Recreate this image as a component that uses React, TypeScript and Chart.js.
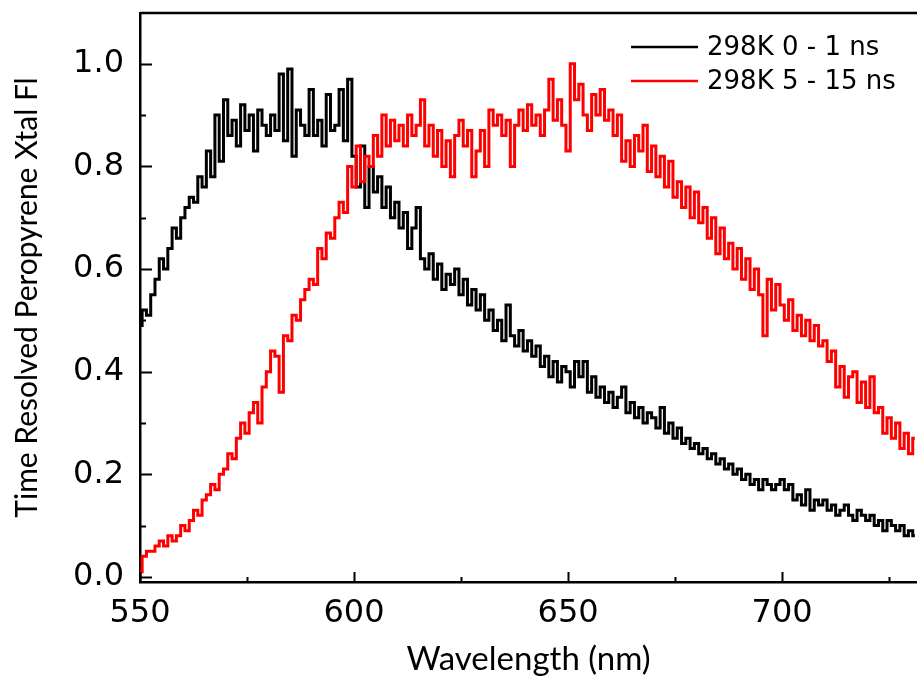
import { useEffect, useRef } from 'react';
import { Chart, registerables } from 'chart.js';

Chart.register(...registerables);

const wavelengths = [
  550, 551, 552, 553, 554, 555, 556, 557, 558, 559,
  560, 561, 562, 563, 564, 565, 566, 567, 568, 569,
  570, 571, 572, 573, 574, 575, 576, 577, 578, 579,
  580, 581, 582, 583, 584, 585, 586, 587, 588, 589,
  590, 591, 592, 593, 594, 595, 596, 597, 598, 599,
  600, 601, 602, 603, 604, 605, 606, 607, 608, 609,
  610, 611, 612, 613, 614, 615, 616, 617, 618, 619,
  620, 621, 622, 623, 624, 625, 626, 627, 628, 629,
  630, 631, 632, 633, 634, 635, 636, 637, 638, 639,
  640, 641, 642, 643, 644, 645, 646, 647, 648, 649,
  650, 651, 652, 653, 654, 655, 656, 657, 658, 659,
  660, 661, 662, 663, 664, 665, 666, 667, 668, 669,
  670, 671, 672, 673, 674, 675, 676, 677, 678, 679,
  680, 681, 682, 683, 684, 685, 686, 687, 688, 689,
  690, 691, 692, 693, 694, 695, 696, 697, 698, 699,
  700, 701, 702, 703, 704, 705, 706, 707, 708, 709,
  710, 711, 712, 713, 714, 715, 716, 717, 718, 719,
  720, 721, 722, 723, 724, 725, 726, 727, 728, 729, 730, 731,
];

// 298K 0 - 1 ns
const early = [
  0.49, 0.52, 0.51, 0.55, 0.58, 0.62, 0.60, 0.64, 0.68, 0.66,
  0.70, 0.72, 0.74, 0.73, 0.78, 0.76, 0.83, 0.78, 0.90, 0.81,
  0.93, 0.86, 0.89, 0.84, 0.92, 0.87, 0.90, 0.83, 0.91, 0.88,
  0.86, 0.90, 0.87, 0.98, 0.85, 0.99, 0.82, 0.91, 0.88, 0.86,
  0.95, 0.86, 0.89, 0.84, 0.94, 0.87, 0.88, 0.95, 0.85, 0.97,
  0.82, 0.76, 0.84, 0.72, 0.80, 0.75, 0.78, 0.72, 0.76, 0.70,
  0.73, 0.68, 0.71, 0.64, 0.68, 0.72, 0.62, 0.60, 0.63, 0.58,
  0.61, 0.56, 0.59, 0.57, 0.60, 0.55, 0.58, 0.53, 0.56, 0.52,
  0.55, 0.50, 0.52, 0.48, 0.50, 0.46, 0.53, 0.47, 0.45, 0.48,
  0.44, 0.46, 0.43, 0.45, 0.41, 0.43, 0.39, 0.42, 0.38, 0.41,
  0.40, 0.37, 0.42, 0.39, 0.42, 0.36, 0.39, 0.35, 0.37, 0.34,
  0.36, 0.33, 0.35, 0.37, 0.32, 0.34, 0.31, 0.33, 0.30, 0.32,
  0.31, 0.29, 0.33, 0.28, 0.30, 0.27, 0.29, 0.26, 0.27, 0.25,
  0.26, 0.24, 0.25, 0.23, 0.24, 0.22, 0.23, 0.21, 0.22, 0.20,
  0.21, 0.19, 0.20, 0.18, 0.19, 0.17, 0.19, 0.18, 0.17, 0.18,
  0.19, 0.17, 0.18, 0.15, 0.16, 0.14, 0.17, 0.13, 0.15, 0.14,
  0.15, 0.13, 0.14, 0.12, 0.13, 0.14, 0.12, 0.11, 0.13, 0.12,
  0.11, 0.12, 0.10, 0.11, 0.09, 0.11, 0.10, 0.09, 0.10, 0.08, 0.09, 0.08,
];

// 298K 5 - 15 ns
const late = [
  0.01, 0.04, 0.05, 0.05, 0.06, 0.07, 0.06, 0.08, 0.07, 0.08,
  0.10, 0.09, 0.11, 0.13, 0.12, 0.15, 0.16, 0.18, 0.17, 0.20,
  0.21, 0.24, 0.23, 0.27, 0.30, 0.28, 0.32, 0.34, 0.30, 0.37,
  0.40, 0.44, 0.43, 0.36, 0.47, 0.46, 0.51, 0.50, 0.54, 0.56,
  0.58, 0.57, 0.64, 0.62, 0.67, 0.66, 0.70, 0.73, 0.71, 0.80,
  0.76, 0.84, 0.77, 0.82, 0.80, 0.86, 0.82, 0.90, 0.84, 0.89,
  0.85, 0.88, 0.84, 0.90, 0.86, 0.88, 0.93, 0.84, 0.88, 0.82,
  0.87, 0.80, 0.85, 0.78, 0.86, 0.89, 0.84, 0.87, 0.78, 0.83,
  0.87, 0.80, 0.91, 0.88, 0.90, 0.86, 0.89, 0.80, 0.88, 0.91,
  0.87, 0.92, 0.88, 0.90, 0.86, 0.91, 0.97, 0.89, 0.93, 0.88,
  0.83, 1.00, 0.93, 0.96, 0.90, 0.87, 0.94, 0.90, 0.95, 0.89,
  0.91, 0.86, 0.90, 0.81, 0.85, 0.80, 0.86, 0.83, 0.88, 0.79,
  0.84, 0.78, 0.82, 0.76, 0.81, 0.74, 0.77, 0.72, 0.76, 0.70,
  0.75, 0.69, 0.72, 0.66, 0.70, 0.63, 0.68, 0.62, 0.65, 0.60,
  0.64, 0.58, 0.62, 0.56, 0.60, 0.55, 0.47, 0.58, 0.52, 0.57,
  0.53, 0.50, 0.54, 0.48, 0.51, 0.47, 0.50, 0.46, 0.49, 0.45,
  0.46, 0.42, 0.44, 0.37, 0.41, 0.35, 0.39, 0.40, 0.34, 0.38,
  0.33, 0.39, 0.32, 0.33, 0.28, 0.31, 0.27, 0.30, 0.25, 0.28, 0.24, 0.27,
];

const seriesLabels = ['298K 0 - 1 ns', '298K 5 - 15 ns'];
const seriesColors = ['#000000', '#ff0000'];

const xMajorTicks = [550, 600, 650, 700];
const xMinorTicks = [575, 625, 675, 725];
const yMajorTicks = [0, 0.2, 0.4, 0.6, 0.8, 1.0];
const yMinorTicks = [0.1, 0.3, 0.5, 0.7, 0.9];

const xTitle = 'Wavelength (nm)';
const yTitle = 'Time Resolved Peropyrene Xtal Fl';

const tickFont = { family: '"DejaVu Sans", sans-serif', size: 32, lineHeight: 1.2 };
const xTitleFont = { family: 'Lato, sans-serif', size: 33, lineHeight: 1.2 };
const yTitleFont = { family: 'Lato, sans-serif', size: 30, lineHeight: 1.2 };

const frameTicksLegend = {
  id: 'frameTicksLegend',
  afterDatasetsDraw(chart: any) {
    const { ctx, chartArea, scales } = chart;
    const x = scales.x;
    const y = scales.y;
    ctx.save();
    ctx.strokeStyle = '#000';
    ctx.lineCap = 'butt';
    // top frame line
    ctx.lineWidth = 2.5;
    ctx.beginPath();
    ctx.moveTo(chartArea.left, chartArea.top);
    ctx.lineTo(chartArea.right, chartArea.top);
    ctx.stroke();
    // inward ticks
    ctx.lineWidth = 2;
    ctx.beginPath();
    xMajorTicks.forEach((v) => {
      const px = Math.round(x.getPixelForValue(v)) + 0.5;
      ctx.moveTo(px, chartArea.bottom);
      ctx.lineTo(px, chartArea.bottom - 10);
    });
    xMinorTicks.forEach((v) => {
      const px = Math.round(x.getPixelForValue(v)) + 0.5;
      ctx.moveTo(px, chartArea.bottom);
      ctx.lineTo(px, chartArea.bottom - 5);
    });
    yMajorTicks.forEach((v) => {
      const py = Math.round(y.getPixelForValue(v)) + 0.5;
      ctx.moveTo(chartArea.left, py);
      ctx.lineTo(chartArea.left + 12, py);
    });
    yMinorTicks.forEach((v) => {
      const py = Math.round(y.getPixelForValue(v)) + 0.5;
      ctx.moveTo(chartArea.left, py);
      ctx.lineTo(chartArea.left + 6, py);
    });
    ctx.stroke();

    // legend (inside, top right)
    const lx0 = chartArea.right - 286;
    const lx1 = chartArea.right - 219;
    const tx = chartArea.right - 210;
    const rows = [chartArea.top + 34, chartArea.top + 68];
    ctx.font = '26px "DejaVu Sans", sans-serif';
    ctx.textBaseline = 'middle';
    ctx.textAlign = 'left';
    chart.data.datasets.forEach((ds: any, i: number) => {
      const ry = rows[i];
      ctx.strokeStyle = ds.borderColor;
      ctx.lineWidth = 2.5;
      ctx.beginPath();
      ctx.moveTo(lx0, ry);
      ctx.lineTo(lx1, ry);
      ctx.stroke();
      ctx.fillStyle = '#000';
      ctx.fillText(ds.label, tx, ry + 1);
    });
    ctx.restore();
  },
};

export default function App() {
  const canvasRef = useRef<HTMLCanvasElement | null>(null);

  useEffect(() => {
    if (!canvasRef.current) return;
    const mk = (vals: number[]) => wavelengths.map((w, i) => ({ x: w, y: vals[i] }));
    const chart = new Chart(canvasRef.current, {
      type: 'line',
      data: {
        datasets: [
          {
            label: seriesLabels[0],
            data: mk(early),
            borderColor: seriesColors[0],
            backgroundColor: seriesColors[0],
            borderWidth: 3,
            pointRadius: 0,
            stepped: 'middle',
            order: 2,
          },
          {
            label: seriesLabels[1],
            data: mk(late),
            borderColor: seriesColors[1],
            backgroundColor: seriesColors[1],
            borderWidth: 3,
            pointRadius: 0,
            stepped: 'middle',
            order: 1,
          },
        ],
      },
      options: {
        animation: false,
        responsive: false,
        maintainAspectRatio: false,
        layout: { padding: { top: 13, left: 0, right: 0, bottom: 0 } },
        plugins: {
          legend: { display: false },
          tooltip: { enabled: false },
        },
        scales: {
          x: {
            type: 'linear',
            min: 550,
            max: 731.5,
            grid: { display: false, drawTicks: false },
            border: { display: true, color: '#000', width: 2.5 },
            afterBuildTicks: (scale: any) => {
              scale.ticks = xMajorTicks.map((v) => ({ value: v }));
            },
            afterFit: (scale: any) => {
              scale.height = 95;
              scale.paddingLeft = 0;
              scale.paddingRight = 0;
            },
            ticks: {
              color: '#000',
              font: tickFont,
              padding: 12,
              maxRotation: 0,
              autoSkip: false,
              callback: (v: any) => String(v),
            },
            title: {
              display: true,
              text: xTitle,
              color: '#000',
              font: xTitleFont,
              padding: { top: 0, bottom: -2 },
            },
          },
          y: {
            type: 'linear',
            min: -0.01,
            max: 1.099,
            grid: { display: false, drawTicks: false },
            border: { display: true, color: '#000', width: 2.5 },
            afterBuildTicks: (scale: any) => {
              scale.ticks = yMajorTicks.map((v) => ({ value: v }));
            },
            afterFit: (scale: any) => {
              scale.width = 140;
              scale.paddingTop = 0;
              scale.paddingBottom = 0;
            },
            ticks: {
              color: '#000',
              font: tickFont,
              padding: 16,
              autoSkip: false,
              callback: (v: any) => Number(v).toFixed(1),
            },
            title: {
              display: true,
              text: yTitle,
              color: '#000',
              font: yTitleFont,
              padding: { top: 9, bottom: 0 },
            },
          },
        },
      },
      plugins: [frameTicksLegend],
    });
    return () => chart.destroy();
  }, []);

  return (
    <div style={{ position: 'fixed', left: 0, top: 0, width: 917, height: 677, background: '#fff' }}>
      <canvas ref={canvasRef} width={917} height={677} style={{ display: 'block' }} />
    </div>
  );
}
